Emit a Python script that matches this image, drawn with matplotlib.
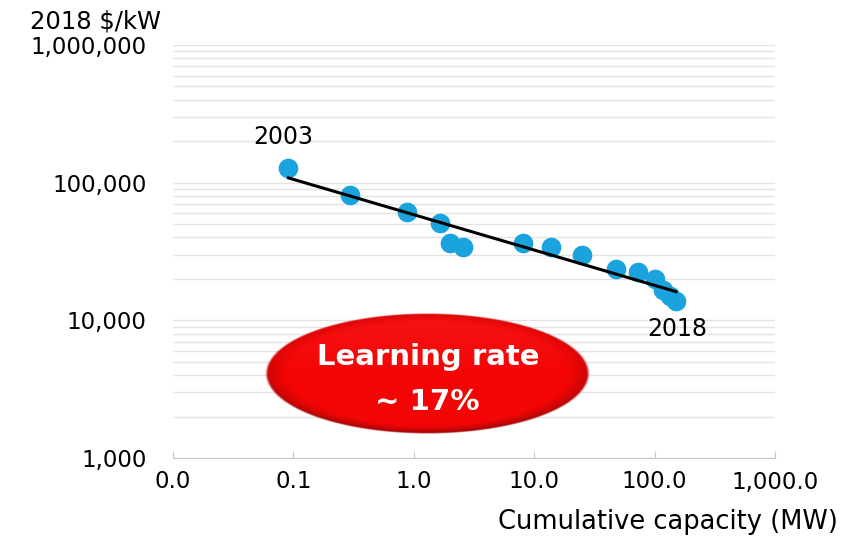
import numpy as np
import matplotlib
matplotlib.use("Agg")
import matplotlib.pyplot as plt
from matplotlib.ticker import FixedLocator, FuncFormatter, LogLocator, NullFormatter

# cumulative installed capacity (MW) and cost (2018 $/kW), 2003 -> 2018
capacity = [0.091, 0.295, 0.873, 1.65, 2.0, 2.58, 8.0, 13.7, 24.8, 47.5, 73.2, 100.7, 118, 134, 150.6]
cost = [128500, 81400, 61600, 51200, 36700, 34300, 36300, 34300, 29900, 23600, 22600, 19900, 16600, 14900, 13800]
first_year = "2003"
last_year = "2018"
x_ticks = [0.01, 0.1, 1, 10, 100, 1000]
y_ticks = [1000, 10000, 100000, 1000000]

plt.rcParams['font.family'] = ['DejaVu Sans']

W, H = 849, 539
fig = plt.figure(figsize=(W / 100, H / 100), dpi=100)
ax = fig.add_axes([173 / W, 1 - 458 / H, (775 - 173) / W, (458 - 45) / H])

ax.set_xscale('log')
ax.set_yscale('log')
ax.set_xlim(x_ticks[0], x_ticks[-1])
ax.set_ylim(y_ticks[0], y_ticks[-1])

# horizontal grid at every major and minor decade step
ax.yaxis.set_minor_locator(LogLocator(base=10, subs=np.arange(2, 10)))
ax.yaxis.set_minor_formatter(NullFormatter())
ax.grid(True, axis='y', which='both', color='#e3e3e3', linewidth=1.0)
ax.set_axisbelow(True)

for s in ['left', 'right', 'top']:
    ax.spines[s].set_visible(False)
ax.spines['bottom'].set_color('#c8c8c8')

ax.xaxis.set_major_locator(FixedLocator(x_ticks))
ax.xaxis.set_minor_locator(FixedLocator([]))
ax.yaxis.set_major_locator(FixedLocator(y_ticks))
ax.xaxis.set_major_formatter(FuncFormatter(lambda v, p: f"{v:,.1f}"))
ax.yaxis.set_major_formatter(FuncFormatter(lambda v, p: f"{v:,.0f}"))
ax.tick_params(axis='x', which='major', direction='in', length=5, color='#c8c8c8',
               labelsize=16.5, pad=9)
ax.tick_params(axis='y', which='both', length=0, labelsize=16.5, pad=19)

# experience curve fit in log-log space
coef = np.polyfit(np.log10(capacity), np.log10(cost), 1)
fit_x = np.array([capacity[0], capacity[-1]])
fit_y = 10 ** np.polyval(coef, np.log10(fit_x))

ax.scatter(capacity, cost, s=200, color='#1aa3dd', zorder=3, linewidths=0)
ax.plot(fit_x, fit_y, color='black', linewidth=2.2, zorder=4)

ax.annotate(first_year, xy=(capacity[0], cost[0]), xytext=(-4, 22), textcoords='offset points',
            ha='center', va='center', fontsize=17)
ax.annotate(last_year, xy=(capacity[-1], cost[-1]), xytext=(1, -20), textcoords='offset points',
            ha='center', va='center', fontsize=17)

fig.text(95 / W, 1 - 21 / H, "2018 $/kW", ha='center', va='center', fontsize=17.5)
fig.text(838 / W, 1 - 522 / H, "Cumulative capacity (MW)", ha='right', va='center', fontsize=18.5)

# red "learning rate" badge drawn in pixel coordinates on an overlay
ov = fig.add_axes([0, 0, 1, 1])
ov.set_xlim(0, W)
ov.set_ylim(H, 0)
ov.axis('off')

cx, cy, ew, eh = 428, 374, 325, 121
nx, ny = ew * 2, eh * 2
gx, gy = np.meshgrid(np.linspace(-1, 1, nx), np.linspace(-1, 1, ny))
r = np.sqrt(gx ** 2 + gy ** 2)
edge = np.clip((r - 0.84) / 0.16, 0, 1)
shade = edge ** 1.6 * (0.3 + 0.7 * np.clip((gy + 0.3) / 1.3, 0, 1))
img = np.zeros((ny, nx, 4))
img[..., 0] = 0.96 - 0.40 * shade
img[..., 1] = 0.02 + 0.06 * np.clip(-gy, 0, 1) * (1 - edge)
img[..., 2] = 0.02 + 0.06 * np.clip(-gy, 0, 1) * (1 - edge)
img[..., 3] = np.clip((1 - r) * 60, 0, 1)
ov.imshow(img, extent=(cx - ew / 2, cx + ew / 2, cy + eh / 2, cy - eh / 2),
          origin='upper', interpolation='bilinear', aspect='auto', zorder=5)

ov.text(cx, 365, "Learning rate", ha='center', va='baseline', color='white',
        fontsize=21, fontweight='bold', zorder=6)
ov.text(cx - 1, 410, "~ 17%", ha='center', va='baseline', color='white',
        fontsize=21, fontweight='bold', zorder=6)

fig.savefig("out.png", dpi=100)
